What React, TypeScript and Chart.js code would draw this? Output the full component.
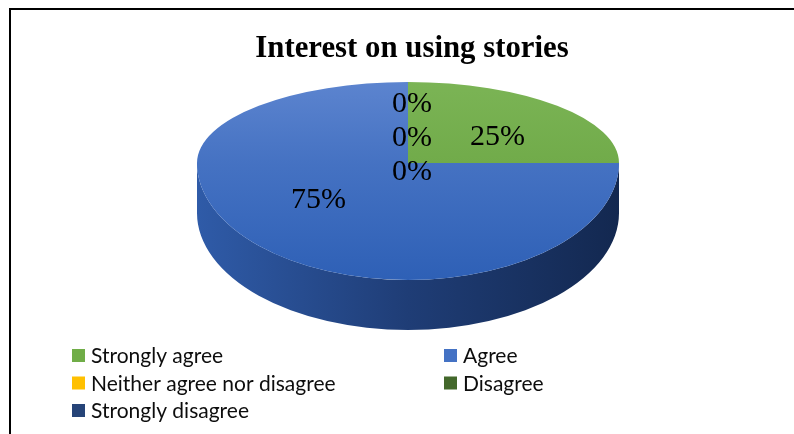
import { useEffect, useRef } from "react";
import { Chart, registerables } from "chart.js";
Chart.register(...registerables);

const titleText = "Interest on using stories";
const categories = ["Strongly agree", "Agree", "Neither agree nor disagree", "Disagree", "Strongly disagree"];
const values = [25, 75, 0, 0, 0];
const sliceColors = ["#70AD47", "#4472C4", "#FFC000", "#43682B", "#264478"];
const topGradients = [
  ["#7BB455", "#67A23F"],
  ["#5C84CF", "#2E60B6"],
  ["#FFC91F", "#F0B400"],
  ["#4C7631", "#3B5C25"],
  ["#2E5190", "#203A68"],
];
const sideGradients = [
  ["#4F7E31", "#3A5E23", "#2A4419"],
  ["#2F5BA8", "#1F3D76", "#132850"],
  ["#C79600", "#9A7400", "#705400"],
  ["#34521F", "#273E17", "#1B2B10"],
  ["#1E3762", "#162848", "#0F1C33"],
];

const W = 794, H = 434;
// hub of the (perspective) pie, horizontal radius, back and front vertical radii, wall depth
const CX = 408, CY = 163, RX = 211, RY_BACK = 81, RY_FRONT = 117, DEPTH = 50, R0 = 100;

function applyScale(ctx: CanvasRenderingContext2D, cx: number, cy: number, R: number, ry: number) {
  ctx.translate(cx, cy);
  ctx.scale(RX / R, ry / R);
  ctx.translate(-cx, -cy);
}

const pie3d = {
  id: "pie3d",
  beforeDraw(chart: any) {
    const ctx = chart.ctx;
    ctx.save();
    ctx.fillStyle = "#000";
    ctx.fillRect(9, 8, W - 9, 2);
    ctx.fillRect(9, 8, 2, H - 8);
    ctx.font = "bold 30.8px 'Liberation Serif', 'Times New Roman', serif";
    ctx.textAlign = "center";
    ctx.textBaseline = "alphabetic";
    ctx.fillText(titleText, 412, 57);
    ctx.restore();
  },
  beforeDatasetsDraw(chart: any) {
    const ctx = chart.ctx;
    const arcs = chart.getDatasetMeta(0).data;
    const cx = arcs[0].x, cy = arcs[0].y, R = arcs[0].outerRadius;
    ctx.save();
    arcs.forEach((arc: any, i: number) => {
      const s = arc.startAngle, e = arc.endAngle;
      for (const k of [-1, 0, 1]) {
        const lo = Math.max(s, 2 * Math.PI * k);
        const hi = Math.min(e, Math.PI + 2 * Math.PI * k);
        if (hi - lo < 1e-6) continue;
        const g = ctx.createLinearGradient(cx - RX, 0, cx + RX, 0);
        const sg = sideGradients[i];
        g.addColorStop(0, sg[0]);
        g.addColorStop(0.5, sg[1]);
        g.addColorStop(1, sg[2]);
        ctx.fillStyle = g;
        ctx.beginPath();
        ctx.ellipse(cx, cy, RX, RY_FRONT, 0, lo, hi);
        ctx.lineTo(cx + RX * Math.cos(hi), cy + DEPTH + RY_FRONT * Math.sin(hi));
        ctx.ellipse(cx, cy + DEPTH, RX, RY_FRONT, 0, hi, lo, true);
        ctx.closePath();
        ctx.fill();
      }
    });
    ctx.restore();
    // back half of the top face (chart draws the arcs with this transform)
    ctx.save();
    applyScale(ctx, cx, cy, R, RY_BACK);
  },
  afterDatasetsDraw(chart: any) {
    const ctx = chart.ctx;
    ctx.restore();
    const arcs = chart.getDatasetMeta(0).data;
    const cx = arcs[0].x, cy = arcs[0].y, R = arcs[0].outerRadius;
    // front half of the top face: redraw the library's arc elements, stretched
    ctx.save();
    ctx.beginPath();
    ctx.rect(0, cy, W, H - cy);
    ctx.clip();
    applyScale(ctx, cx, cy, R, RY_FRONT);
    arcs.forEach((arc: any) => arc.draw(ctx));
    ctx.restore();

    const data = chart.data.datasets[0].data as number[];
    const total = data.reduce((a, b) => a + b, 0);
    ctx.save();
    ctx.fillStyle = "#000";
    ctx.font = "30px 'Liberation Serif', 'Times New Roman', serif";
    ctx.textAlign = "center";
    ctx.textBaseline = "middle";
    let zeroIdx = 0;
    arcs.forEach((arc: any, i: number) => {
      const pct = Math.round((data[i] / total) * 100) + "%";
      if (data[i] > 0) {
        const m = (arc.startAngle + arc.endAngle) / 2;
        const x = arc.x + 0.6 * RX * Math.cos(m);
        const ry = Math.sin(m) < 0 ? RY_BACK : RY_FRONT;
        const y = arc.y + 0.45 * ry * Math.sin(m);
        ctx.fillText(pct, x, y);
      } else {
        const x = arc.x + 4;
        const y = arc.y - 0.73 * RY_BACK + zeroIdx * 34;
        zeroIdx++;
        ctx.fillText(pct, x, y);
      }
    });
    ctx.restore();
  },
  afterDraw(chart: any) {
    const ctx = chart.ctx;
    ctx.save();
    ctx.font = "21px Lato, 'Noto Sans', sans-serif";
    ctx.textBaseline = "middle";
    ctx.textAlign = "left";
    const colX = [72, 444];
    const rowY = [355.5, 383, 410.5];
    (chart.data.labels as string[]).forEach((lab, i) => {
      const x = colX[i % 2];
      const y = rowY[Math.floor(i / 2)];
      ctx.fillStyle = sliceColors[i];
      ctx.fillRect(x, y - 6.5, 13, 13);
      ctx.fillStyle = "#0d0d0d";
      ctx.fillText(lab, x + 19, y + 1);
    });
    ctx.restore();
  },
};

export default function App() {
  const ref = useRef<HTMLCanvasElement | null>(null);
  useEffect(() => {
    if (!ref.current) return;
    const chart = new Chart(ref.current, {
      type: "pie",
      data: {
        labels: categories,
        datasets: [
          {
            data: values,
            borderWidth: 0,
            hoverOffset: 0,
            backgroundColor: (c: any) => {
              const ch = c.chart;
              const area = ch.chartArea;
              const i = c.dataIndex ?? 0;
              if (!area) return sliceColors[i];
              const cy = (area.top + area.bottom) / 2;
              const r = Math.min(area.right - area.left, area.bottom - area.top) / 2;
              const g = ch.ctx.createLinearGradient(0, cy - r, 0, cy + r);
              g.addColorStop(0, topGradients[i][0]);
              g.addColorStop(1, topGradients[i][1]);
              return g;
            },
          },
        ],
      },
      options: {
        responsive: false,
        animation: false,
        devicePixelRatio: 1,
        events: [],
        layout: {
          padding: { left: CX - R0, right: W - CX - R0, top: CY - R0, bottom: H - CY - R0 },
        },
        plugins: {
          legend: { display: false },
          title: { display: false },
          tooltip: { enabled: false },
        },
      },
      plugins: [pie3d],
    });
    return () => chart.destroy();
  }, []);
  return (
    <div style={{ position: "absolute", left: 0, top: 0, width: W, height: H, background: "#fff" }}>
      <canvas ref={ref} width={W} height={H} style={{ display: "block", width: W, height: H }} />
    </div>
  );
}
